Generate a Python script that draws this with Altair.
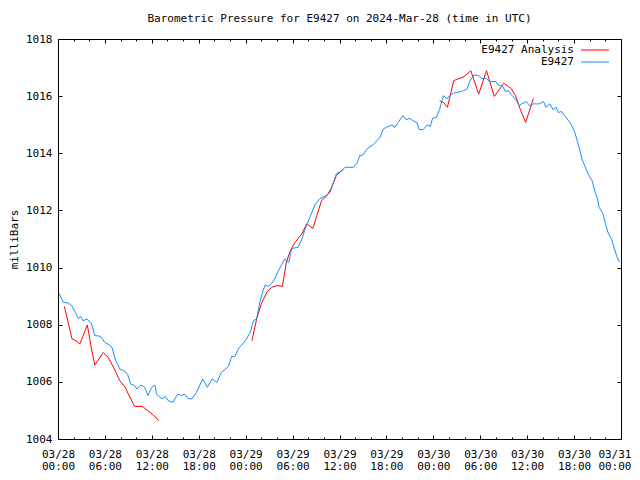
import altair as alt
import pandas as pd

# ---- data (hours after 2024-03-28 00:00 UTC, millibars) ----
blue_hours = [0.1, 0.7, 1.3, 1.75, 2.2, 2.6, 2.9, 3.2, 3.7, 4.3, 4.7, 5.4, 6.0, 6.4, 6.9,
              7.3, 7.9, 8.4, 8.9, 9.3, 9.8, 10.1, 10.6, 11.1, 11.5, 12.0, 12.4, 12.6, 13.3,
              13.7, 14.1, 14.7, 15.3, 15.8, 16.2, 16.6, 17.1, 17.7, 18.5, 19.1, 19.7, 20.3,
              20.9, 21.8, 22.2, 22.6, 23.2, 23.5, 24.1, 24.6, 25.0, 25.4, 25.8, 26.3, 26.5,
              26.9, 27.3, 27.8, 28.3, 29.0, 29.5, 29.9, 30.7, 31.2, 31.6, 32.2, 32.9, 33.5,
              34.1, 34.8, 35.6, 36.3, 36.7, 37.8, 38.2, 38.6, 39.0, 39.5, 40.3, 41.2, 41.6,
              42.0, 42.7, 43.1, 43.5, 44.1, 44.5, 45.0, 45.4, 45.9, 46.2, 46.7, 47.2, 47.6,
              47.9, 48.4, 48.8, 49.1, 49.3, 49.7, 50.1, 50.6, 51.6, 52.3, 52.7, 53.2, 53.8,
              54.2, 54.8, 55.2, 56.0, 56.3, 56.9, 57.2, 57.6, 58.0, 58.5, 59.0, 59.3, 59.9,
              60.3, 60.8, 61.2, 61.6, 62.1, 62.4, 62.9, 63.3, 63.7, 64.0, 64.4, 64.8, 65.3,
              65.7, 66.1, 66.4, 66.7, 67.0, 67.4, 67.8, 68.3, 68.7, 69.0, 69.2, 69.7, 70.0,
              70.4, 70.8, 71.1, 71.5, 71.8]
blue_mb = [1009.11, 1008.78, 1008.76, 1008.67, 1008.44, 1008.22, 1008.29, 1008.14, 1008.20,
           1008.03, 1007.62, 1007.60, 1007.38, 1007.32, 1007.21, 1006.80, 1006.45, 1006.39,
           1006.27, 1005.92, 1005.87, 1005.75, 1005.89, 1005.81, 1005.52, 1005.81, 1005.89,
           1005.57, 1005.40, 1005.49, 1005.34, 1005.28, 1005.57, 1005.52, 1005.57, 1005.42,
           1005.40, 1005.63, 1006.10, 1005.81, 1006.10, 1005.98, 1006.33, 1006.54, 1006.89,
           1006.89, 1007.21, 1007.29, 1007.50, 1007.73, 1008.14, 1008.20, 1008.78, 1009.25,
           1009.39, 1009.34, 1009.43, 1009.66, 1009.95, 1010.30, 1010.18, 1010.67, 1010.71,
           1011.00, 1011.35, 1011.76, 1012.22, 1012.42, 1012.49, 1012.63, 1013.28, 1013.39,
           1013.51, 1013.51, 1013.63, 1013.92, 1013.94, 1014.15, 1014.30, 1014.56, 1014.85,
           1014.91, 1014.99, 1014.91, 1015.08, 1015.32, 1015.18, 1015.22, 1015.14, 1015.08,
           1014.83, 1014.83, 1014.99, 1014.94, 1015.22, 1015.26, 1015.53, 1015.84, 1016.02,
           1015.90, 1016.02, 1016.11, 1016.16, 1016.25, 1016.54, 1016.74, 1016.72, 1016.62,
           1016.62, 1016.51, 1016.51, 1016.39, 1016.34, 1016.16, 1016.19, 1016.04, 1015.90,
           1015.67, 1015.73, 1015.81, 1015.67, 1015.73, 1015.73, 1015.73, 1015.81, 1015.61,
           1015.73, 1015.53, 1015.61, 1015.43, 1015.46, 1015.32, 1015.14, 1014.97, 1014.73,
           1014.44, 1014.15, 1013.80, 1013.54, 1013.28, 1013.04, 1012.63, 1012.40, 1012.11,
           1011.88, 1011.53, 1011.18, 1011.00, 1010.71, 1010.36, 1010.20]

red_hours = [0.81, 1.3, 1.8, 2.3, 2.8, 3.75, 4.2, 4.7, 5.8, 6.4, 7.1, 7.9, 8.6, 9.0, 9.8,
             10.8, 11.5, 12.2, 12.9,
             24.8, 25.4, 26.0, 26.7, 27.3, 28.0, 28.7, 29.2, 29.7, 30.3, 31.2, 31.8, 32.6,
             33.1, 33.7, 34.4, 35.0, 35.6, 36.5,
             48.8, 49.3, 49.8, 50.6, 51.1, 51.8, 52.8, 53.8, 54.8, 55.8, 57.0, 57.6, 58.0,
             58.5, 59.1, 59.8, 60.8]
red_mb = [1008.64, 1008.08, 1007.50, 1007.44, 1007.33, 1007.99, 1007.27, 1006.59, 1007.03,
          1006.86, 1006.51, 1006.04, 1005.81, 1005.57, 1005.14, 1005.14, 1004.99, 1004.84,
          1004.64,
          1007.44, 1008.20, 1008.73, 1009.13, 1009.31, 1009.37, 1009.34, 1010.18, 1010.59,
          1010.88, 1011.18, 1011.53, 1011.37, 1011.82, 1012.34, 1012.52, 1012.81, 1013.22,
          1013.45,
          1015.84, 1015.78, 1015.61, 1016.54, 1016.60, 1016.66, 1016.89, 1016.07, 1016.89,
          1015.99, 1016.45, 1016.34, 1016.25, 1016.02, 1015.55, 1015.08, 1015.92]
red_segment = [1] * 19 + [2] * 19 + [3] * 17

series_names = ["E9427 Analysis", "E9427"]
series_colors = ["#ff0000", "#1a8cff"]

x_major = list(range(0, 73, 6))
x_minor = list(range(0, 73, 2))
y_ticks = list(range(1004, 1019, 2))

# ---- build table ----
df = pd.concat([
    pd.DataFrame({"hour": red_hours, "mb": red_mb, "series": series_names[0],
                  "seg": [f"r{s}" for s in red_segment]}),
    pd.DataFrame({"hour": blue_hours, "mb": blue_mb, "series": series_names[1], "seg": "b"}),
], ignore_index=True)

FONT = "DejaVu Sans Mono"
W, H = 563, 400

x_scale = alt.Scale(domain=[0, 72], nice=False, zero=False)
y_scale = alt.Scale(domain=[1004, 1018], nice=False, zero=False)

label_expr = ("datum.value % 6 === 0 ? ['03/' + (28 + floor(datum.value / 24)), "
              "((datum.value % 24) < 10 ? '0' : '') + (datum.value % 24) + ':00'] : ''")
tick_len = {"condition": {"test": "datum.value % 6 === 0", "value": 4}, "value": 2}
last_align = {"condition": {"test": "datum.value >= 72", "value": "right"}, "value": "center"}
last_offset = {"condition": {"test": "datum.value >= 72", "value": 10}, "value": 0}

base = alt.Chart(df)

lines = base.mark_line(strokeWidth=1).encode(
    x=alt.X("hour:Q", scale=x_scale,
            axis=alt.Axis(orient="bottom", values=x_major, labelExpr=label_expr,
                          ticks=False, tickSize=0, domain=False, grid=False, title=None,
                          labelFont=FONT, labelFontSize=11, labelColor="black",
                          labelPadding=9, labelLineHeight=12.5, labelFlush=False,
                          labelAlign=last_align, labelOffset=last_offset)),
    y=alt.Y("mb:Q", scale=y_scale,
            axis=alt.Axis(orient="left", values=y_ticks, format="d", ticks=False,
                          tickSize=0, domain=False, grid=False, title="milliBars",
                          labelFont=FONT, labelFontSize=11, labelColor="black",
                          labelPadding=6, titleFont=FONT, titleFontSize=11,
                          titleFontWeight="normal", titleColor="black", titlePadding=6)),
    color=alt.Color("series:N",
                    scale=alt.Scale(domain=series_names, range=series_colors),
                    legend=None),
    detail="seg:N",
)

# inward ticks along bottom and left edges
ticks_a = base.mark_point(opacity=0).encode(
    x=alt.X("hour:Q", scale=x_scale,
            axis=alt.Axis(orient="top", offset=-H, values=x_minor, labels=False,
                          domain=False, grid=False, title=None, tickSize=tick_len,
                          tickColor="black")),
    y=alt.Y("mb:Q", scale=y_scale,
            axis=alt.Axis(orient="right", offset=-W, values=y_ticks, labels=False,
                          domain=False, grid=False, title=None, tickSize=4,
                          tickColor="black")),
)

# inward ticks along top and right edges
ticks_b = base.mark_point(opacity=0).encode(
    x=alt.X("hour:Q", scale=x_scale,
            axis=alt.Axis(orient="bottom", offset=-H, values=x_minor, labels=False,
                          domain=False, grid=False, title=None, tickSize=tick_len,
                          tickColor="black")),
    y=alt.Y("mb:Q", scale=y_scale,
            axis=alt.Axis(orient="left", offset=-W, values=y_ticks, labels=False,
                          domain=False, grid=False, title=None, tickSize=4,
                          tickColor="black")),
)

# key (gnuplot style: label on the left, line sample on the right)
key_layers = []
for i, (name, col) in enumerate(zip(series_names, series_colors)):
    kdf = pd.DataFrame({"series": [name]})
    yy = 11 + 12 * i
    key_layers.append(
        alt.Chart(kdf).mark_text(align="right", baseline="middle", font=FONT,
                                 fontSize=11, color="black").encode(
            text="series:N", x=alt.value(516), y=alt.value(yy))
    )
    key_layers.append(
        alt.Chart(kdf).mark_rule(color=col, strokeWidth=1).encode(
            x=alt.value(523), x2=alt.value(551), y=alt.value(yy))
    )

chart = alt.layer(lines, ticks_a, ticks_b, *key_layers).resolve_axis(
    x="independent", y="independent"
).properties(
    width=W, height=H,
    title=alt.TitleParams("Barometric Pressure for E9427 on 2024-Mar-28 (time in UTC)",
                          font=FONT, fontSize=11, fontWeight="normal", color="black",
                          anchor="middle", offset=9),
    autosize=alt.AutoSizeParams(type="none"),
    padding={"left": 50, "top": 31, "right": 11, "bottom": 33},
).configure_view(stroke="black", strokeWidth=1)

chart.save("out.html", embed_options={"renderer": "svg", "actions": False})
